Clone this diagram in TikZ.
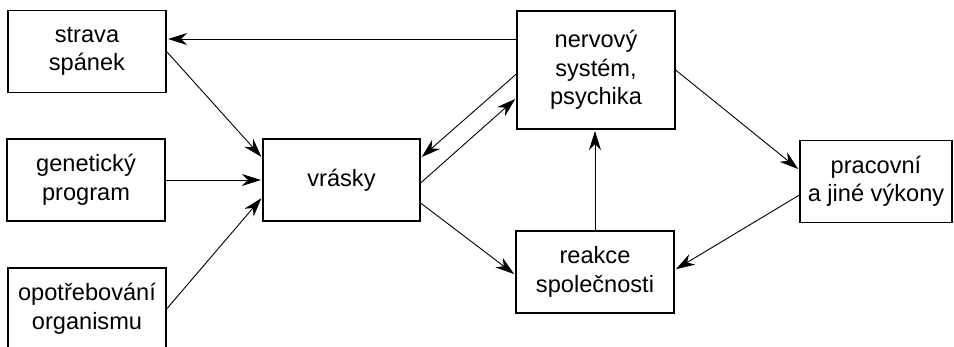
\documentclass[tikz,border=0pt]{standalone}
\usepackage{fontspec}
\setmainfont{Liberation Sans}
\usetikzlibrary{arrows.meta}

\begin{document}
\begin{tikzpicture}[x=1pt, y=-1pt,
	box/.style={rectangle, draw, line width=1.2pt, minimum width=158pt,
	minimum height=82pt, align=center, inner sep=0pt,
	font=\fontsize{23.6}{28.5}\selectfont},
	link/.style={line width=0.9pt, shorten >=1.5pt},
	>={Stealth[length=19pt,width=12pt,inset=6pt]}]

\useasboundingbox (0,0) rectangle (954,346);
\clip (0,0) rectangle (954,346);

\node[box] (strava) at (87,51.5) {strava\\spánek};
\node[box] (genet) at (86,180) {genetický\\program};
\node[box] (opotreb) at (87,309) {opotřebování\\organismu};
\node[box, minimum width=157pt] (vrasky) at (341.5,180) {vrásky};
\node[box, minimum height=118pt] (nervy) at (596,70) {nervový\\systém,\\psychika};
\node[box] (reakce) at (595,272) {reakce\\společnosti};
\node[box, minimum width=152pt] (vykony) at (876,181.5) {pracovní\\a jiné výkony};

\draw[link,->] ([yshift=31pt]nervy.west) -- ([yshift=12.5pt]strava.east);
\draw[link,->] (strava.east) -- ([yshift=22pt]vrasky.west);
\draw[link,->] (genet.east) -- (vrasky.west);
\draw[link,->] (opotreb.east) -- ([yshift=-17pt]vrasky.west);
\draw[link,->] ([yshift=-4pt]nervy.west) -- ([yshift=22pt]vrasky.east);
\draw[link,->] ([yshift=-3pt]vrasky.east) -- ([yshift=-28pt]nervy.west);
\draw[link,->] ([yshift=-23pt]vrasky.east) -- ([yshift=-3pt]reakce.west);
\draw[link,->] (reakce.north) -- (reakce.north |- nervy.south);
\draw[link,->] (nervy.east) -- ([yshift=11.5pt]vykony.west);
\draw[link,->] ([yshift=-13.5pt]vykony.west) -- ([yshift=2pt]reakce.east);
\end{tikzpicture}
\end{document}
